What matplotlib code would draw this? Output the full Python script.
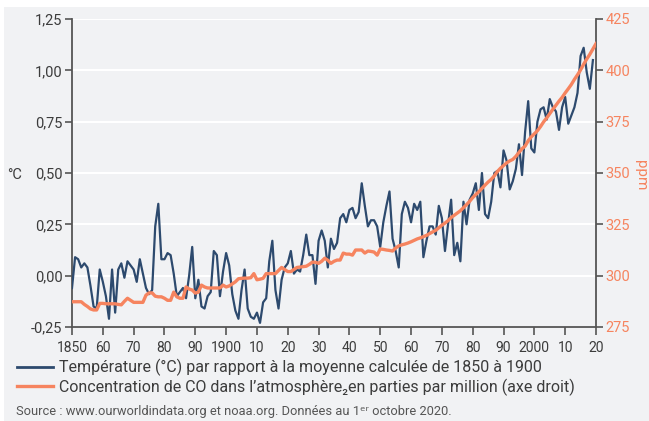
import matplotlib
matplotlib.use("Agg")
import matplotlib.pyplot as plt
import matplotlib.patches as patches
from matplotlib.lines import Line2D

# années
years_temp = list(range(1850, 2020))
years_co2 = list(range(1850, 2021))

# écart de température (°C) par rapport à 1850-1900
temp = [
    -0.06, 0.09, 0.08, 0.04, 0.06, 0.04, -0.05, -0.15, -0.16, 0.03,
    -0.03, -0.10, -0.21, 0.03, -0.18, 0.03, 0.06, -0.01, 0.07, 0.05,
    0.03, -0.03, 0.08, 0.01, -0.06, -0.09, -0.07, 0.24, 0.35, 0.08,
    0.08, 0.11, 0.10, 0.01, -0.10, -0.08, -0.06, -0.11, 0.00, 0.14,
    -0.11, -0.02, -0.15, -0.16, -0.10, -0.08, 0.12, 0.10, -0.10, 0.02,
    0.11, 0.05, -0.09, -0.17, -0.21, -0.07, 0.03, -0.16, -0.20, -0.21,
    -0.18, -0.23, -0.13, -0.11, 0.07, 0.17, -0.07, -0.16, -0.02, 0.04,
    0.06, 0.12, 0.01, 0.03, 0.02, 0.10, 0.20, 0.10, 0.10, -0.04,
    0.17, 0.22, 0.17, 0.04, 0.18, 0.13, 0.16, 0.28, 0.30, 0.26,
    0.32, 0.33, 0.28, 0.31, 0.45, 0.34, 0.24, 0.27, 0.27, 0.24,
    0.14, 0.26, 0.34, 0.41, 0.18, 0.12, 0.04, 0.30, 0.36, 0.33,
    0.26, 0.35, 0.32, 0.36, 0.09, 0.17, 0.24, 0.24, 0.20, 0.34,
    0.28, 0.12, 0.25, 0.37, 0.10, 0.16, 0.07, 0.36, 0.25, 0.37,
    0.40, 0.45, 0.32, 0.50, 0.30, 0.28, 0.36, 0.50, 0.51, 0.43,
    0.61, 0.56, 0.42, 0.46, 0.52, 0.64, 0.49, 0.70, 0.85, 0.62,
    0.60, 0.75, 0.81, 0.82, 0.76, 0.86, 0.82, 0.80, 0.71, 0.82,
    0.87, 0.74, 0.78, 0.82, 0.89, 1.07, 1.11, 0.99, 0.91, 1.05,
]

# concentration de CO2 (ppm)
co2 = [
    287.3, 287.3, 287.3, 287.3, 286.0, 285.0, 283.8, 283.3, 283.3, 286.5,
    286.5, 286.3, 286.3, 286.3, 286.3, 286.0, 285.8, 287.5, 289.0, 288.0,
    287.0, 287.0, 287.0, 287.0, 290.5, 291.6, 291.6, 290.0, 289.7, 289.7,
    289.0, 288.0, 288.0, 292.0, 289.7, 289.0, 289.0, 294.5, 293.5, 293.0,
    291.5, 292.0, 295.4, 294.5, 294.0, 294.0, 294.0, 294.0, 294.0, 295.4,
    294.5, 295.0, 296.0, 297.0, 298.5, 298.7, 298.8, 298.8, 299.0, 301.0,
    298.0, 298.3, 298.7, 301.0, 301.0, 301.0, 301.0, 302.5, 304.0, 303.0,
    302.0, 302.0, 303.0, 304.0, 304.2, 304.4, 304.6, 305.5, 306.6, 306.5,
    306.0, 307.0, 308.5, 307.5, 306.0, 307.0, 307.6, 307.6, 311.0, 310.5,
    310.5, 310.0, 312.5, 312.5, 312.5, 311.0, 312.0, 311.8, 311.5, 310.0,
    313.0, 312.8, 312.5, 312.3, 312.0, 313.5, 314.5, 315.0, 315.4, 315.9,
    316.5, 317.2, 317.9, 318.4, 319.0, 319.6, 320.5, 321.3, 322.1, 323.3,
    324.6, 325.6, 326.8, 328.3, 329.4, 330.5, 331.6, 333.1, 334.6, 336.2,
    338.0, 339.5, 340.9, 342.5, 344.1, 345.6, 346.9, 348.6, 350.7, 352.3,
    353.6, 354.9, 355.9, 356.6, 358.1, 360.0, 361.8, 363.1, 365.7, 367.6,
    369.1, 370.6, 372.6, 374.9, 376.8, 378.9, 381.0, 383.0, 385.0, 386.8,
    389.0, 391.0, 393.1, 395.6, 397.8, 400.2, 403.0, 405.5, 407.8, 410.4,
    413.0,
]

x_ticks = [1850, 1860, 1870, 1880, 1890, 1900, 1910, 1920, 1930, 1940,
           1950, 1960, 1970, 1980, 1990, 2000, 2010, 2020]
x_labels = ["1850", "60", "70", "80", "90", "1900", "10", "20", "30", "40",
            "50", "60", "70", "80", "90", "2000", "10", "20"]
left_ticks = [-0.25, 0.0, 0.25, 0.5, 0.75, 1.0, 1.25]
left_labels = ["-0,25", "0,00", "0,25", "0,50", "0,75", "1,00", "1,25"]
right_ticks = [275, 300, 325, 350, 375, 400, 425]

label_temp = "Température (°C) par rapport à la moyenne calculée de 1850 à 1900"
label_co2 = "Concentration de CO dans l’atmosphère₂en parties par million (axe droit)"
source = "Source : www.ourworldindata.org et noaa.org. Données au 1ᵉʳ octobre 2020."

# couleurs
NAVY = "#2d4a6e"
SALMON = "#f6845f"
PANEL = "#f1f2f4"
SPINE = "#555555"
TXT = "#3c3c3c"

plt.rcParams['font.family'] = ['Roboto', 'DejaVu Sans']

fig = plt.figure(figsize=(6.49, 4.21), dpi=100, facecolor="white")
# fond gris du cartouche
fig.add_artist(patches.Rectangle((4 / 649, 0), 1, 1 - 7 / 421, transform=fig.transFigure,
                                 facecolor=PANEL, edgecolor="none", zorder=0))

ax = fig.add_axes([72 / 649, 1 - 327 / 421, (596 - 72) / 649, (327 - 19) / 421])
ax.set_facecolor(PANEL)
ax2 = ax.twinx()

ax.plot(years_temp, temp, color=NAVY, lw=1.6, zorder=3)
ax2.plot(years_co2, co2, color=SALMON, lw=2.4, zorder=3)

ax.set_xlim(1850, 2020)
ax.set_ylim(-0.25, 1.25)
ax2.set_ylim(275, 425)

ax.set_xticks(x_ticks)
ax.set_xticklabels(x_labels)
ax.set_yticks(left_ticks)
ax.set_yticklabels(left_labels)
ax2.set_yticks(right_ticks)

# grille blanche horizontale
ax.grid(axis="y", color="white", lw=1.5)
ax.set_axisbelow(True)

for a in (ax, ax2):
    a.spines["top"].set_visible(False)
    for s in ("left", "right", "bottom"):
        a.spines[s].set_color(SPINE)
        a.spines[s].set_linewidth(1.3)
ax.spines["right"].set_visible(False)
ax2.spines["left"].set_visible(False)
ax2.spines["bottom"].set_visible(False)

ax.tick_params(axis="x", length=6, width=1.2, color=SPINE, labelsize=10, labelcolor=TXT, pad=4)
ax.tick_params(axis="y", length=5, width=1.2, color=SPINE, labelsize=10.5, labelcolor=TXT, pad=2)
ax2.tick_params(axis="y", length=5, width=1.2, color=SPINE, labelsize=10.5, labelcolor=SALMON, pad=2)

fig.text(15 / 649, 1 - 175 / 421, "°C", fontsize=10.5, color=TXT, ha="center", va="center")
fig.text(641 / 649, 1 - 175 / 421, "ppm", fontsize=11, color=SALMON, ha="center", va="center",
         rotation=270)

# légende
handles = [Line2D([], [], color=NAVY, lw=2), Line2D([], [], color=SALMON, lw=2.4)]
fig.legend(handles, [label_temp, label_co2], loc="upper left",
           bbox_to_anchor=(17 / 649, 1 - 359 / 421), frameon=False, fontsize=11.5,
           handlelength=2.25, handletextpad=0.35, labelspacing=0.15,
           borderpad=0, borderaxespad=0, labelcolor=TXT)

fig.text(16 / 649, 1 - 411 / 421, source, fontsize=9.3, color="#555555", ha="left", va="center")

fig.savefig("out.png", dpi=100, facecolor=fig.get_facecolor())
